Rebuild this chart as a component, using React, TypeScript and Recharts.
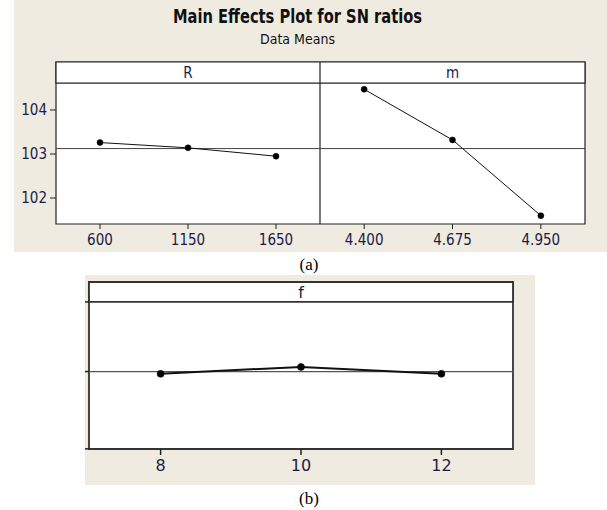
import React from 'react';
import { LineChart, Line, XAxis, YAxis, ReferenceArea, ReferenceLine } from 'recharts';

// ---- data ----
const rLevels = ['600', '1150', '1650'];
const rSN = [103.26, 103.14, 102.95];
const mLevels = ['4.400', '4.675', '4.950'];
const mSN = [104.47, 103.32, 101.6];
const fLevels = ['8', '10', '12'];
const fSN = [103.08, 103.17, 103.08];
const topYTicks = [102, 103, 104];
const fYTicks = [102.11, 103.11, 104.01];

const avg = (a: number[]) => a.reduce((s, v) => s + v, 0) / a.length;
const grandMean = avg([...rSN, ...mSN]);
const fMean = avg(fSN);

const rows = (levels: string[], vals: number[]) => levels.map((l, i) => ({ i, label: l, v: vals[i] }));
const rRows = rows(rLevels, rSN);
const mRows = rows(mLevels, mSN);
const fRows = rows(fLevels, fSN);

// ---- styling ----
const BEIGE = '#efebe1';
const INK = '#1c1c44';
const FONT = '"DejaVu Sans Condensed", "DejaVu Sans", sans-serif';
const TOP_DOMAIN: [number, number] = [101.41, 105.09];
const TOP_HEADER = 104.61;
const F_DOMAIN: [number, number] = [102.108, 104.268];
const F_HEADER = 104.01;
const X_DOMAIN: [number, number] = [-0.5, 2.5];
const F_X_DOMAIN: [number, number] = [-0.51, 2.51];

const tickStyle = { fill: INK, fontSize: 15, fontFamily: FONT };

function Panel(props: {
  data: { i: number; label: string; v: number }[];
  levels: string[];
  header: string;
  width: number;
  marginRight: number;
  showY: boolean;
}) {
  const { data, levels, header, width, marginRight, showY } = props;
  return (
    <LineChart width={width} height={260} data={data} margin={{ top: 62, right: marginRight, bottom: 0, left: 0 }}>
      <XAxis
        dataKey="i"
        type="number"
        domain={X_DOMAIN}
        ticks={[0, 1, 2]}
        tickFormatter={(v: number) => levels[v]}
        height={36}
        tickSize={5}
        tickMargin={5}
        axisLine={false}
        tickLine={{ stroke: '#222' }}
        tick={tickStyle}
      />
      <YAxis
        type="number"
        domain={TOP_DOMAIN}
        ticks={topYTicks}
        hide={!showY}
        width={56}
        tickSize={6}
        tickMargin={3}
        axisLine={false}
        tickLine={{ stroke: '#222' }}
        tick={tickStyle}
      />
      <ReferenceArea y1={TOP_DOMAIN[0]} y2={TOP_DOMAIN[1]} fill="#ffffff" fillOpacity={1} stroke="#222" strokeWidth={1.2} />
      <ReferenceArea
        y1={TOP_HEADER}
        y2={TOP_DOMAIN[1]}
        fill="#ffffff"
        fillOpacity={1}
        stroke="#222"
        strokeWidth={1.2}
        label={{ value: header, position: 'center', fill: INK, fontSize: 15, fontFamily: FONT }}
      />
      <ReferenceLine y={grandMean} stroke="#444" strokeWidth={1} />
      <Line
        dataKey="v"
        stroke="#111"
        strokeWidth={1}
        dot={{ r: 3, fill: '#000', stroke: '#000', strokeWidth: 0.5 }}
        isAnimationActive={false}
      />
    </LineChart>
  );
}

export default function App() {
  return (
    <div style={{ position: 'absolute', left: 0, top: 0, width: 607, height: 510, background: '#fff', overflow: 'hidden' }}>
      <div style={{ position: 'absolute', left: 14, top: 0, width: 593, height: 252, background: BEIGE }} />
      <div style={{ position: 'absolute', left: 85, top: 275, width: 450, height: 210, background: BEIGE }} />

      <svg style={{ position: 'absolute', left: 0, top: 0 }} width={607} height={510}>
        <text x={297.5} y={23} textAnchor="middle" fontSize={20} fontWeight="bold" fontFamily={FONT} fill="#111" textLength={249} lengthAdjust="spacingAndGlyphs">
          Main Effects Plot for SN ratios
        </text>
        <text x={297.5} y={44} textAnchor="middle" fontSize={14} fontFamily={FONT} fill="#111">
          Data Means
        </text>
        <text x={309} y={270} textAnchor="middle" fontSize={17} fontFamily='"Liberation Serif", serif' fill="#000">
          (a)
        </text>
        <text x={309} y={504} textAnchor="middle" fontSize={17} fontFamily='"Liberation Serif", serif' fill="#000">
          (b)
        </text>
      </svg>

      <div style={{ position: 'absolute', left: 0, top: 0 }}>
        <Panel data={rRows} levels={rLevels} header="R" width={320} marginRight={0} showY={true} />
      </div>
      <div style={{ position: 'absolute', left: 320, top: 0 }}>
        <Panel data={mRows} levels={mLevels} header="m" width={287} marginRight={22} showY={false} />
      </div>

      <div style={{ position: 'absolute', left: 85, top: 275 }}>
        <LineChart width={450} height={210} data={fRows} margin={{ top: 7, right: 22, bottom: 0, left: 0 }}>
          <XAxis
            dataKey="i"
            type="number"
            domain={F_X_DOMAIN}
            ticks={[0, 1, 2]}
            tickFormatter={(v: number) => fLevels[v]}
            height={36}
            tickSize={6}
            tickMargin={5}
            axisLine={false}
            tickLine={{ stroke: '#222', strokeWidth: 1.5 }}
            tick={{ fill: INK, fontSize: 16, fontFamily: '"DejaVu Sans", sans-serif' }}
          />
          <YAxis
            type="number"
            domain={F_DOMAIN}
            ticks={fYTicks}
            width={4}
            tickSize={4}
            tickMargin={0}
            tickFormatter={() => ''}
            axisLine={false}
            tickLine={{ stroke: '#222', strokeWidth: 1.5 }}
          />
          <ReferenceArea y1={F_DOMAIN[0]} y2={F_DOMAIN[1]} fill="#ffffff" fillOpacity={1} stroke="#333" strokeWidth={1.8} />
          <ReferenceArea
            y1={F_HEADER}
            y2={F_DOMAIN[1]}
            fill="#ffffff"
            fillOpacity={1}
            stroke="#333"
            strokeWidth={1.8}
            label={{ value: 'f', position: 'center', fill: INK, fontSize: 16, fontFamily: '"DejaVu Sans", sans-serif' }}
          />
          <ReferenceLine y={fMean} stroke="#555" strokeWidth={1.2} />
          <Line
            dataKey="v"
            stroke="#111"
            strokeWidth={2}
            dot={{ r: 3.5, fill: '#000', stroke: '#000', strokeWidth: 0.5 }}
            isAnimationActive={false}
          />
        </LineChart>
      </div>
    </div>
  );
}
